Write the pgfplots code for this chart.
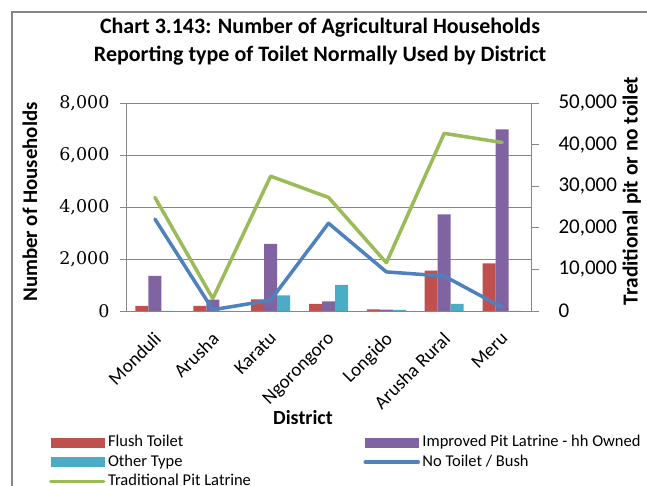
\documentclass[border=0pt]{standalone}
\usepackage{pgfplots}
\pgfplotsset{compat=1.18}
\usepackage{fontspec}
\setmainfont{Carlito}
\newfontfamily\dvserif{DejaVu Serif}
\definecolor{cFlush}{RGB}{192,80,77}
\definecolor{cImp}{RGB}{128,100,162}
\definecolor{cOther}{RGB}{75,172,198}
\definecolor{cNo}{RGB}{79,129,189}
\definecolor{cTrad}{RGB}{155,187,89}
\definecolor{axgray}{RGB}{134,134,134}

\pgfplotstableread{
x flush improved other
0 200 1350 0
1 200 440 0
2 450 2580 600
3 270 370 1000
4 60 50 40
5 1550 3720 270
6 1830 6990 0
}\bartable

\pgfplotstableread{
x notoilet traditional
0 22100 27300
1 300 3000
2 2600 32400
3 21100 27300
4 9400 11600
5 8400 42700
6 900 40500
}\linetable

\begin{document}
\begin{tikzpicture}[x=1pt,y=1pt]
\useasboundingbox (0,0) rectangle (647,486);
\fill[white] (0,0) rectangle (647,486);
\draw[axgray, line width=1.5pt] (12,0) -- (12,474) -- (647,474);
\node[font=\bfseries\fontsize{22}{28}\selectfont, align=center] at (320,444)
  {Chart 3.143: Number of Agricultural Households\\Reporting type of Toilet Normally Used by District};

\begin{axis}[
  at={(126pt,175pt)}, anchor=south west, scale only axis,
  width=405pt, height=208pt,
  xmin=-0.5, xmax=6.5, ymin=0, ymax=8000,
  axis x line*=bottom, axis y line*=left,
  axis line style={axgray, line width=0.8pt},
  ybar=0pt, bar width=13pt,
  xtick={0,...,6},
  xticklabels={Monduli,Arusha,Karatu,Ngorongoro,Longido,Arusha Rural,Meru},
  x tick style={draw=none},
  xticklabel style={rotate=45, anchor=north east, font=\fontsize{19}{22}\selectfont, xshift=-8pt, yshift=-5pt},
  ytick={0,2000,...,8000},
  scaled y ticks=false,
  y tick style={axgray, line width=0.8pt},
  tick align=outside, major tick length=6pt,
  ymajorgrids, grid style={axgray, line width=0.8pt},
  /pgf/number format/.cd, 1000 sep={,}, assume math mode=true, /pgfplots/.cd,
  yticklabel style={font=\dvserif\fontsize{17.5}{20}\selectfont},
  yticklabel shift=7pt,
  ylabel={Number of Households},
  ylabel style={font=\bfseries\fontsize{20.8}{24}\selectfont, at={(axis description cs:-0.237,0.524)}, anchor=center, rotate=0},
  xlabel={District},
  xlabel style={font=\bfseries\fontsize{20}{24}\selectfont, at={(axis description cs:0.437,-0.51)}, anchor=center},
]
\addplot[fill=cFlush, draw=none] table[x=x, y=flush] {\bartable};
\addplot[fill=cImp, draw=none] table[x=x, y=improved] {\bartable};
\addplot[fill=cOther, draw=none] table[x=x, y=other] {\bartable};
\end{axis}

\begin{axis}[
  at={(126pt,175pt)}, anchor=south west, scale only axis,
  width=405pt, height=208pt,
  xmin=-0.5, xmax=6.5, ymin=0, ymax=50000,
  axis y line*=right, axis x line=none,
  axis line style={axgray, line width=0.8pt},
  ytick={0,10000,...,50000},
  scaled y ticks=false,
  y tick style={axgray, line width=0.8pt},
  tick align=outside, major tick length=8pt,
  /pgf/number format/.cd, 1000 sep={,}, assume math mode=true, /pgfplots/.cd,
  yticklabel style={font=\fontsize{21}{24}\selectfont},
  yticklabel shift=16pt,
  ylabel={Traditional pit or no toilet},
  ylabel style={font=\bfseries\fontsize{21.4}{24}\selectfont, at={(axis description cs:1.249,0.577)}, anchor=center, rotate=0},
  legend columns=2,
  legend cell align=left,
  legend style={at={(axis description cs:-0.198,-0.575)}, anchor=north west, draw=none, fill=none,
    font=\fontsize{16.5}{19}\selectfont, row sep=0pt,
    nodes={inner sep=2.5pt, text height=11.5pt, text depth=3pt},
    /tikz/every even column/.append style={column sep=110pt}},
]
\addlegendimage{legend image code/.code={\fill[cFlush] (0pt,-4.5pt) rectangle (53pt,4.5pt);}}
\addlegendentry{Flush Toilet}
\addlegendimage{legend image code/.code={\fill[cImp] (0pt,-4.5pt) rectangle (53pt,4.5pt);}}
\addlegendentry{Improved Pit Latrine - hh Owned}
\addlegendimage{legend image code/.code={\fill[cOther] (0pt,-4.5pt) rectangle (53pt,4.5pt);}}
\addlegendentry{Other Type}
\addplot[cNo, line width=3.5pt, line join=round, line cap=round, mark=none,
  legend image code/.code={\draw[cNo, line width=3.5pt, line cap=round] (0pt,0pt) -- (53pt,0pt);}]
  table[x=x, y=notoilet] {\linetable};
\addlegendentry{No Toilet / Bush}
\addplot[cTrad, line width=3.5pt, line join=round, line cap=round, mark=none,
  legend image code/.code={\draw[cTrad, line width=3.5pt, line cap=round] (0pt,0pt) -- (53pt,0pt);}]
  table[x=x, y=traditional] {\linetable};
\addlegendentry{Traditional Pit Latrine}
\end{axis}
\end{tikzpicture}
\end{document}
